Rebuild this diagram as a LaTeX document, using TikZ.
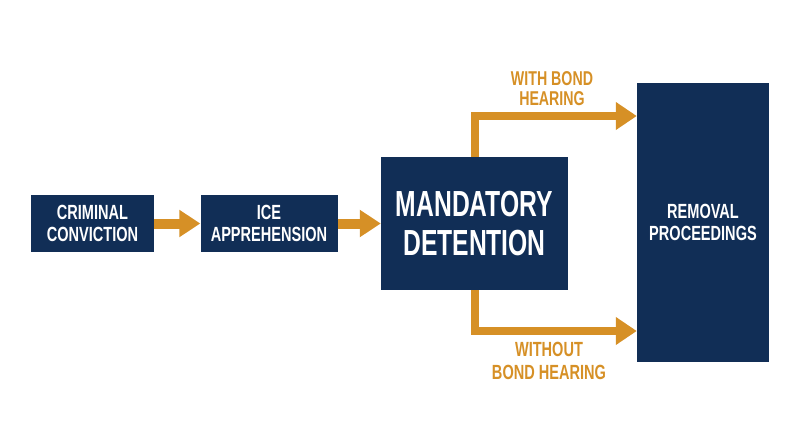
\documentclass[tikz,border=0pt]{standalone}
\usepackage{fontspec}
\setmainfont{Liberation Sans}
\newfontfamily\smallf[FakeStretch=0.71]{Liberation Sans}
\newfontfamily\bigf[FakeStretch=0.68]{Liberation Sans}
\usetikzlibrary{arrows.meta}
\definecolor{navy}{RGB}{17,46,86}
\definecolor{gold}{RGB}{214,144,38}
\begin{document}
\begin{tikzpicture}[x=1pt,y=-1pt,
  box/.style={fill=navy,draw=none,text=white,align=center,inner sep=0pt,
    font=\smallf\bfseries\fontsize{20.5}{21.8}\selectfont},
  flow/.style={draw=gold,line width=10pt,-{Triangle[length=21pt,width=26pt]}},
  branch/.style={draw=gold,line width=8.6pt,line join=miter,-{Triangle[length=21pt,width=26.6pt]}},
  lbl/.style={text=gold,align=center,inner sep=0pt}]
\useasboundingbox (0,0) rectangle (800,447);
\node[box,minimum width=123pt,minimum height=57pt] (cc) at (92.5,223.5) {CRIMINAL\\CONVICTION};
\node[box,minimum width=137pt,minimum height=57pt] (ice) at (269,223.5) {ICE\\APPREHENSION};
\node[box,minimum width=187pt,minimum height=133pt,font=\bigf\bfseries\fontsize{36.3}{38.3}\selectfont] (md) at (474.5,223.5) {MANDATORY\\DETENTION};
\node[box,minimum width=132pt,minimum height=279pt,font=\smallf\bfseries\fontsize{20.5}{22.6}\selectfont] (rp) at (703,222.5) {REMOVAL\\PROCEEDINGS};
\draw[flow] (cc.east) -- (ice.west);
\draw[flow] (ice.east) -- (md.west);
\coordinate (up) at (475,116);
\coordinate (dn) at (475,331);
\draw[branch] (md.north -| up) |- (rp.west |- up);
\draw[branch] (md.south -| dn) |- (rp.west |- dn);
\node[lbl,font=\smallf\bfseries\fontsize{20}{20.7}\selectfont] (wb) at (552,88.5) {WITH BOND\\HEARING};
\node[lbl,font=\smallf\bfseries\fontsize{20.5}{22.6}\selectfont] (wob) at (549,361) {WITHOUT\\BOND HEARING};
\end{tikzpicture}
\end{document}
